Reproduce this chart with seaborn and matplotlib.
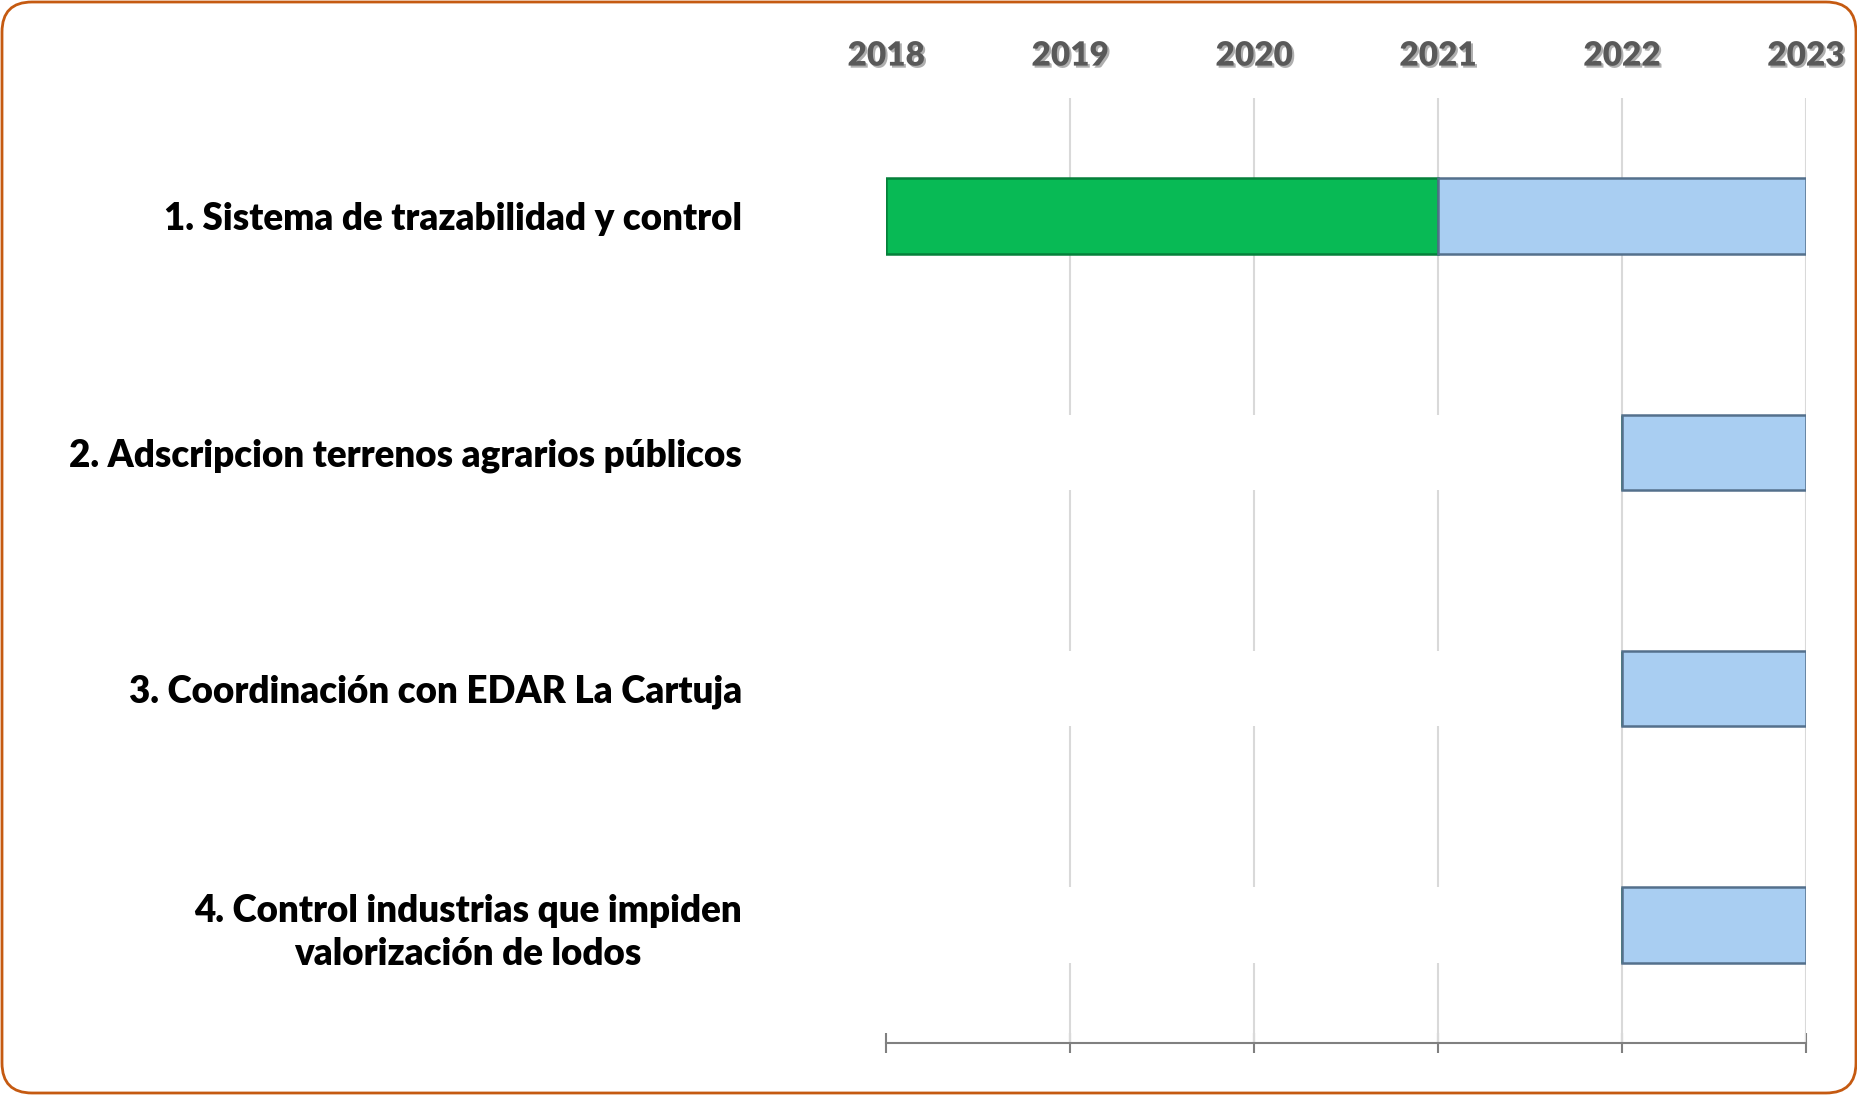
import matplotlib
matplotlib.use("Agg")
import matplotlib.pyplot as plt
import matplotlib.patheffects as pe
from matplotlib.patches import FancyBboxPatch
import numpy as np
import pandas as pd
import seaborn as sns

tasks = [
    "1. Sistema de trazabilidad y control",
    "2. Adscripcion terrenos agrarios públicos",
    "3. Coordinación con EDAR La Cartuja",
    "4. Control industrias que impiden\nvalorización de lodos",
]
start_year = [2018, 2022, 2022, 2022]
done_years = [3, 0, 0, 0]
pending_years = [2, 1, 1, 1]
years = [2018, 2019, 2020, 2021, 2022, 2023]

df = pd.DataFrame({"task": tasks, "start": start_year,
                   "done": done_years, "pending": pending_years})
df["offset"] = df["start"] - years[0]
df["pending_left"] = df["start"] + df["done"]

sns.set_theme(style="white")
plt.rcParams["font.family"] = ["Lato", "DejaVu Sans"]

fig = plt.figure(figsize=(18.58, 10.95), dpi=100)
ax = fig.add_axes([0.477, 0.0475, 0.495, 0.863])

bar_w = 0.32
common = dict(y="task", order=tasks, orient="y", width=bar_w, errorbar=None,
              saturation=1, ax=ax)

# blank (white) lead-in segment, hides the gridlines as in the original chart
sns.barplot(data=df, x="offset", left=years[0], color="white",
            edgecolor="none", zorder=2, **common)
# completed part
sns.barplot(data=df, x="done", left=df["start"].to_numpy(), color="#08BA55",
            edgecolor="#05803A", linewidth=1.8, zorder=3, **common)
# pending part
sns.barplot(data=df, x="pending", left=df["pending_left"].to_numpy(), color="#A9CEF2",
            edgecolor="#54708C", linewidth=1.8, zorder=4, **common)

ax.set_xlim(years[0], years[-1])
ax.set_xlabel("")
ax.set_ylabel("")

ax.set_xticks(years)
ax.set_xticklabels([str(y) for y in years])
ax.xaxis.remove_overlapping_locs = False
ax.set_xticks(years[1:], minor=True)
ax.tick_params(axis="x", which="major", bottom=True, top=False,
               labelbottom=False, labeltop=True, direction="inout",
               length=14, width=1.5, color="#808080", pad=12,
               labelsize=24, labelcolor="#595959")
ax.tick_params(axis="x", which="minor", length=0)
for lbl in ax.get_xticklabels():
    lbl.set_fontweight("heavy")
    lbl.set_path_effects([pe.withSimplePatchShadow(offset=(1.5, -1.5), alpha=0.35)])

ax.grid(False)
ax.grid(True, which="minor", axis="x", color="#D9D9D9", linewidth=1.5)
ax.set_axisbelow(True)

ax.tick_params(axis="y", length=0, pad=104, labelsize=26.5, labelcolor="black")
for lbl in ax.get_yticklabels():
    lbl.set_fontweight("heavy")
    lbl.set_multialignment("center")
    lbl.set_linespacing(1.33)

for side in ["left", "top", "right"]:
    ax.spines[side].set_visible(False)
ax.spines["bottom"].set_color("#808080")
ax.spines["bottom"].set_linewidth(1.5)

border = FancyBboxPatch((0.02, 0.02), 18.54, 10.91,
                        boxstyle="round,pad=0,rounding_size=0.3",
                        transform=fig.dpi_scale_trans, fill=False,
                        edgecolor="#C55A11", linewidth=2)
fig.patches.append(border)

fig.savefig("out.png", dpi=100)
